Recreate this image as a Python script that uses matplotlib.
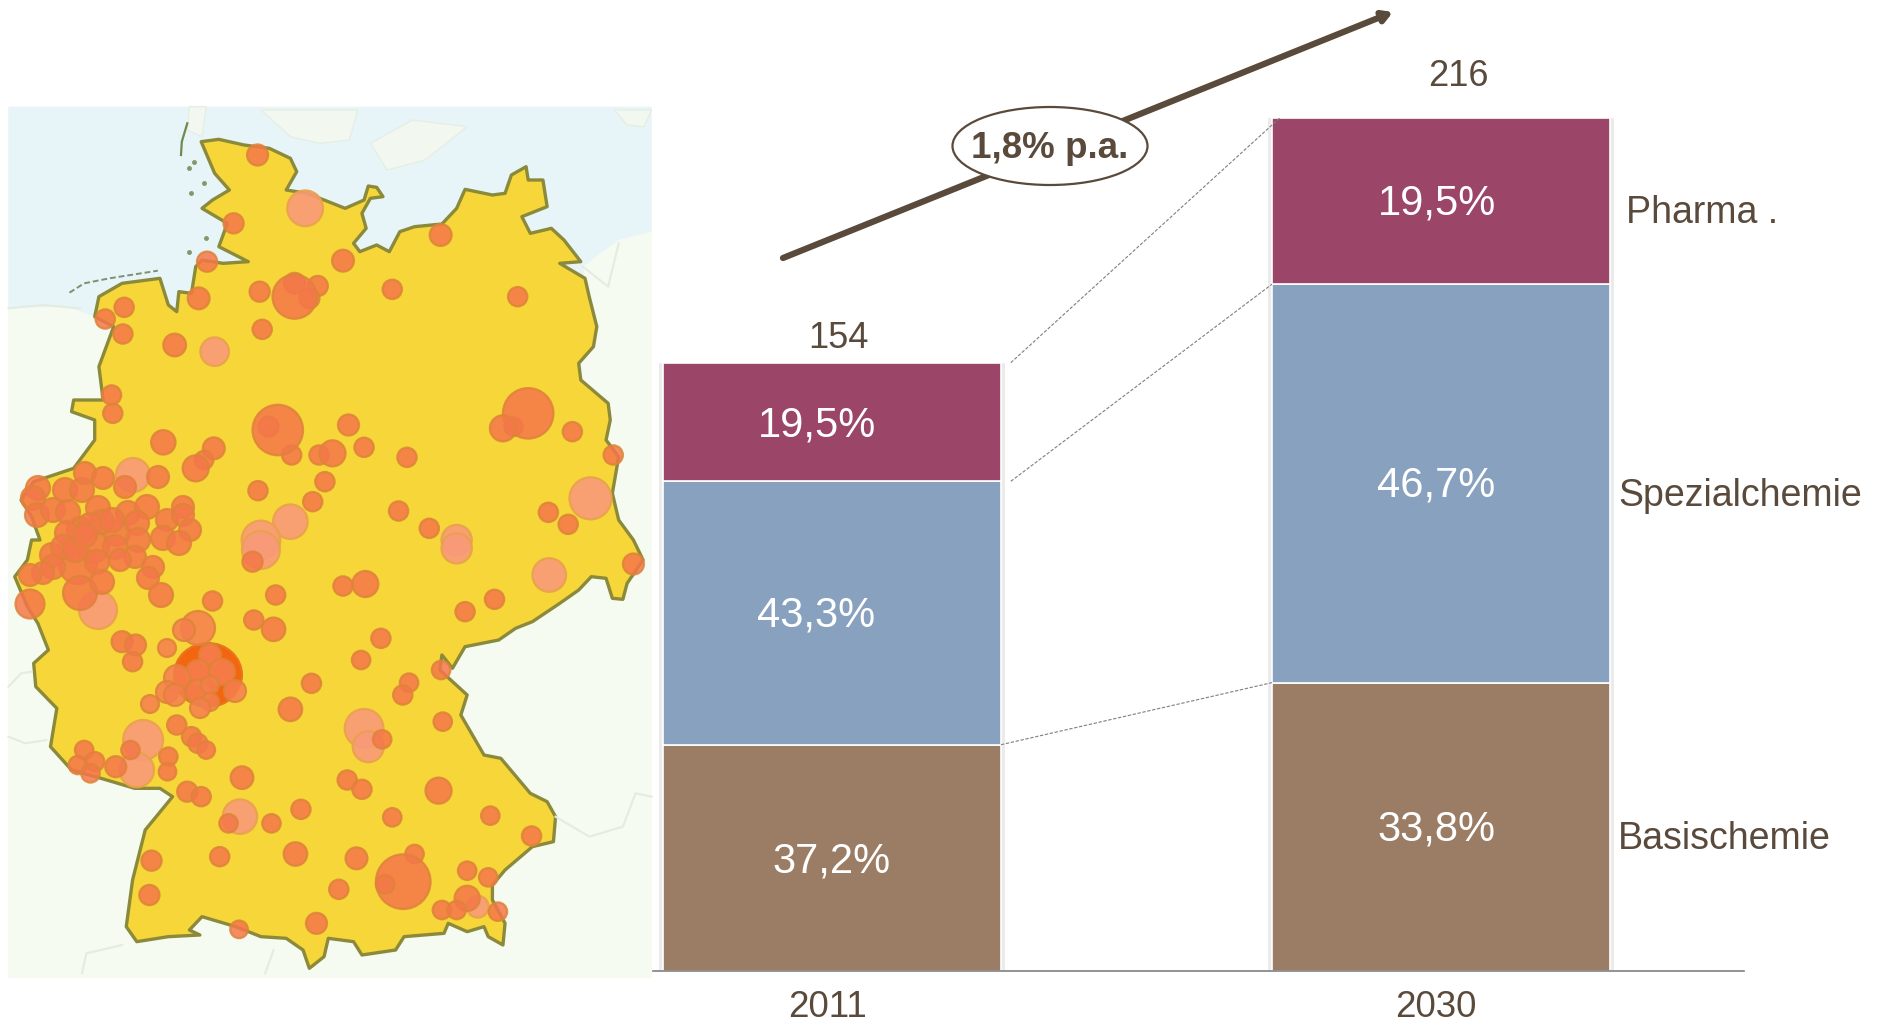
import numpy as np
import matplotlib
matplotlib.use("Agg")
import matplotlib.pyplot as plt
from matplotlib.patches import Circle, Ellipse, Polygon, Rectangle
from matplotlib.transforms import ScaledTranslation

plt.rcParams['font.family'] = ['Liberation Sans', 'DejaVu Sans']

W, H = 1881, 1026
TEXT = "#594a3c"

# ---- bars ----
years = ["2011", "2030"]
totals = [154, 216]
segments = ["Basischemie", "Spezialchemie", "Pharma ."]
shares_2011 = [37.2, 43.3, 19.5]
shares_2030 = [33.8, 46.7, 19.5]
share_labels_2011 = ["37,2%", "43,3%", "19,5%"]
share_labels_2030 = ["33,8%", "46,7%", "19,5%"]
seg_colors = ["#9b7d65", "#87a1bf", "#9b4568"]
growth_label = "1,8% p.a."

# ---- map: x, y in crop units (see north/south helpers) ----
outline_north = [(478,125),(520,118),(580,135),(640,145),(690,175),(705,215),(680,270),(730,280),(770,300),
    (820,325),(865,300),(875,258),(895,262),(910,290),(880,295),(860,340),(870,385),(840,430),(855,455),
    (895,435),(925,455),(950,395),(985,380),(1050,372),(1085,325),(1105,268),(1170,285),(1200,280),(1215,225),
    (1250,200),(1255,240),(1290,240),(1300,320),(1240,350),(1260,400),(1310,385),(1340,420),(1380,485),(1330,490),
    (1390,535),(1400,590),(1418,680),(1410,740),(1375,790),(1380,840),(1445,910),(1450,960),(1440,1020),
    (1470,1070),(1455,1180),(1470,1260),(1505,1320)]
outline_south = [(1528,60),(1490,130),(1480,178),(1455,175),(1440,115),(1405,110),(1375,150),(1330,190),
    (1265,245),(1225,265),(1185,300),(1105,320),(1075,385),(1050,345),(1045,390),(1110,465),(1095,525),
    (1150,645),(1190,655),(1260,760),(1300,785),(1320,830),(1315,905),(1265,920),(1200,990),(1170,1035),
    (1170,1080),(1200,1150),(1195,1215),(1160,1190),(1150,1160),(1110,1175),(1065,1150),(1055,1180),(960,1190),
    (940,1230),(860,1245),(840,1205),(780,1195),(770,1250),(735,1285),(720,1230),(680,1195),(620,1190),
    (560,1160),(480,1130),(450,1170),(475,1185),(400,1190),(325,1205),(300,1160),(315,1020),(345,870),
    (410,770),(380,745),(320,745),(240,715),(170,690),(120,620),(135,505),(85,440),(80,370),(115,330),
    (90,250),(65,200),(35,110),(65,60),(75,0)]
outline_west = [(95,1320),(75,1250),(50,1200),(80,1145),(175,1105),(225,1020),(225,960),(170,935),(175,900),
    (245,900),(235,800),(270,680),(225,650),(235,590),(290,550),(380,535),(400,615),(420,635),(425,575),
    (455,580),(465,500),(480,480),(530,490),(590,485),(520,440),(540,370),(480,325),(505,300),(545,270),(510,220)]
sea = [(20,20),(1548,20),(1548,395),(1470,420),(1385,500),(1390,540),(800,700),(225,650),(160,620),(20,625)]
islands = [[(620,30),(850,30),(830,120),(760,130),(690,110)], [(880,130),(980,60),(1110,80),(1010,180),(920,210)],
    [(450,20),(490,20),(480,110),(445,90)], [(1460,30),(1548,30),(1530,80),(1490,75)]]
sylt = [(445,70),(432,125),(430,165)]
frisian = [(165,578),(200,550),(260,535),(310,525),(375,512)]
halligen = [(460,185),(485,248),(450,205),(455,280),(490,415),(450,455)]
borders_south = [[(20,440),(50,400),(75,395)], [(20,590),(60,610),(110,600)],
    [(1320,830),(1400,890),(1480,860),(1510,760),(1548,770)], [(195,1300),(205,1240),(290,1215)], [(630,1300),(650,1230)]]
borders_north = [[(1385,500),(1445,560),(1470,430)], [(20,625),(100,615),(190,625)]]

# x, y, crop diameter
dots_north = [(612,165,50),(555,370,48),(492,485,48),(472,595,52),(617,575,48),(815,482,52),(700,550,50),(755,558,48),
    (735,595,48),(932,568,46),(1047,405,52),(1230,590,46),(295,622,46),(250,657,46),(292,702,46),(623,688,46),
    (415,735,54),(265,885,46),(268,940,46),(388,1027,58),(508,1045,52),(485,1080,44),(638,980,48),(693,1065,46),
    (758,1065,46),(828,975,50),(865,1042,46),(967,1072,46),(1220,980,44),(1360,995,46),(1457,1065,46),
    (613,1172,46),(772,1145,46),(743,1205,46),(947,1233,46),(1020,1285,46),
    (1303,1237,46),(1350,1273,46),(700,590,105),(660,990,120),(790,1060,62),(1255,940,120),
    (1195,985,62),(465,1105,62)]
dots_south = [(600,65,48),(1505,72,50),(815,138,46),(868,132,62),(655,165,46),(1175,178,46),(1105,215,46),(505,183,46),
    (603,240,46),(650,268,56),(905,295,46),(290,305,50),
    (322,315,50),(315,365,46),(858,360,44),(1048,390,44),(740,430,46),(972,428,44),(957,465,46),
    (690,508,56),(908,598,44),(1052,545,44),(420,555,46),(455,590,46),(470,610,46),(490,630,42),(200,630,44),(185,675,44),
    (225,665,46),(215,700,44),(275,680,50),(310,630,44),(400,650,44),(398,695,42),(575,713,54),(825,720,46),(860,748,46),
    (1042,752,62),(445,755,48),(478,770,46),(715,808,46),(543,850,44),(645,850,44),(932,832,44),(1165,827,44),(1263,888,46),
    (360,962,48),(522,950,46),(702,942,56),(847,955,52),(985,942,44),(958,1025,130),(915,1033,44),(1110,992,44),
    (1160,1012,44),(805,1048,46),(355,1065,48),(1110,1075,60),(1050,1110,44),(1085,1110,44),(1183,1115,44),(752,1150,50),
    (568,1168,42)]
pale_north = [(725,325,85),(510,755,68),(1403,1195,100),(690,1265,82),(1085,1320,72),(620,1320,92)]
pale_south = [(620,30,90),(1085,25,72),(1305,105,80),(865,565,92),(875,620,74),(340,600,95),(325,690,82),
    (570,830,82),(1135,1100,52)]

# dense parts read at higher zoom: x, y, diameter in picture pixels
ruhr_dots = [(78,565,38),(80,593,34),(93,547,32),(117,533,26),(80,530,26),(30,604,29),(38,488,24),(33,498,24),(37,515,24),
    (53,510,24),(65,490,24),(82,490,24),(85,473,22),(103,478,22),(125,487,22),(158,477,22),(68,512,24),(98,508,24),
    (67,533,24),(102,522,24),(128,513,24),(147,507,24),(137,523,24),(167,520,22),(183,507,22),(183,515,22),(190,530,22),
    (163,538,24),(179,543,24),(138,540,24),(115,547,24),(135,557,22),(97,562,24),(52,555,24),(63,547,24),(53,567,24),
    (43,573,22),(30,575,22),(153,567,22),(148,578,22),(161,595,24),(102,582,24),(90,525,24),(112,520,24),(75,550,24),
    (120,560,22),(85,535,24)]
ruhr_pale = [(133,475,34),(98,610,38)]
rhein_main_dots = [(210,655,22),(198,672,24),(222,672,26),(177,678,26),(167,692,22),(175,695,22),(198,692,24),(210,685,18),
    (235,691,22),(210,702,18),(200,708,20),(150,704,18),(167,648,18),(198,628,34),(184,630,22)]


def north(pts):
    return [(x / 2.376, 100 + y / 3) for x, y in pts]


def south(pts):
    return [(x / 2.376, 540 + y / 3) for x, y in pts]


fig = plt.figure(figsize=(W / 100, H / 100), dpi=100, facecolor="white")

# map panel in pixel coordinates
mp = fig.add_axes([0, 0, 1, 1])
mp.set_xlim(0, W)
mp.set_ylim(H, 0)
mp.axis("off")
mp.add_patch(Rectangle((8, 107), 644, 871, fc="#f6fbf2", ec="none"))
mp.add_patch(Polygon(north(sea), fc="#e7f5f8", ec="none"))
for isl in islands:
    mp.add_patch(Polygon(north(isl), fc="#f2f8f0", ec="#e6eee4", lw=1))
for b in borders_south:
    mp.plot(*zip(*south(b)), color="#e4ebe0", lw=1.5)
for b in borders_north:
    mp.plot(*zip(*north(b)), color="#e4ebe0", lw=1.5)
mp.plot(*zip(*north(sylt)), color="#6f8a50", lw=1.6)
mp.plot(*zip(*north(frisian)), color="#7d9070", lw=1.4, ls=(0, (3, 1.5)))
mp.plot(*zip(*north(halligen)), ls="none", marker="o", ms=2.5, color="#7f9a68")

germany = north(outline_north) + south(outline_south) + north(outline_west)
mp.add_patch(Polygon(germany, fc="#f7d63a", ec="#8b8a3a", lw=2.4, joinstyle="round"))


def add_dots(xy, diam, color, edge, alpha):
    for (x, y), d in zip(xy, diam):
        mp.add_patch(Circle((x, y), d / 2, fc=color, ec=edge, lw=1.6, alpha=alpha))


def crop_dots(pts, conv, color, edge, alpha):
    add_dots(conv([p[:2] for p in pts]), [p[2] / 2.376 for p in pts], color, edge, alpha)


def px_dots(pts, color, edge, alpha):
    add_dots([p[:2] for p in pts], [p[2] for p in pts], color, edge, alpha)


SOLID, SOLID_EDGE = "#f4774a", "#dd8438"
PALE, PALE_EDGE = "#f99a78", "#e8a24c"

crop_dots(pale_north, north, PALE, PALE_EDGE, 0.9)
crop_dots(pale_south, south, PALE, PALE_EDGE, 0.9)
px_dots(ruhr_pale, PALE, PALE_EDGE, 0.9)
crop_dots(dots_north, north, SOLID, SOLID_EDGE, 0.85)
crop_dots(dots_south, south, SOLID, SOLID_EDGE, 0.85)
px_dots(ruhr_dots, SOLID, SOLID_EDGE, 0.85)
mp.add_patch(Ellipse((208, 675), 68, 64, fc="#f5640f", ec="#e5781e", lw=1.5))
px_dots(rhein_main_dots, "#f57f4f", SOLID_EDGE, 0.85)

# stacked bars through their own value axis
bar_width = 0.555
ax = fig.add_axes([653 / W, (H - 971) / H, (1744 - 653) / W, 971 / H])
ax.patch.set_alpha(0)
ax.set_xlim(-0.294, 1.4975)
ax.set_ylim(0, 971 / 3.95)
for s in ["top", "left", "right"]:
    ax.spines[s].set_visible(False)
ax.spines["bottom"].set_color("#808080")
ax.spines["bottom"].set_linewidth(1.2)
ax.set_yticks([])
ax.set_xticks([0, 1])
ax.set_xticklabels(years, fontsize=26.5, color=TEXT)
ax.tick_params(axis="x", length=0, pad=14)
shift = ScaledTranslation(-5 / 100, 0, fig.dpi_scale_trans)
for lab in ax.get_xticklabels():
    lab.set_transform(lab.get_transform() + shift)

xs = np.arange(len(years))
ax.bar(xs, totals, bar_width + 0.012, color="#ebebeb", zorder=1)
cum = np.zeros((2, 4))
for i, shares in enumerate([shares_2011, shares_2030]):
    cum[i, 1:] = np.cumsum(np.array(shares) * totals[i] / 100)
for k in range(3):
    ax.bar(xs, cum[:, k + 1] - cum[:, k], bar_width, bottom=cum[:, k], color=seg_colors[k],
           edgecolor="white", linewidth=1.2, zorder=2)

# dashed links between the bars
link_gaps = [0, 0.016, 0.016]
for k, gap in enumerate(link_gaps):
    ax.plot([bar_width / 2 + gap, 1 - bar_width / 2 + (0.013 if k == 2 else 0)], [cum[0, k + 1], cum[1, k + 1]],
            color="#7f7f7f", lw=0.8, ls=(0, (3, 1.5)), zorder=3, clip_on=False)

# text, arrow, bubble on top
ov = fig.add_axes([0, 0, 1, 1])
ov.set_xlim(0, W)
ov.set_ylim(H, 0)
ov.axis("off")
ov.patch.set_alpha(0)

ov.annotate("", xy=(1393, 12), xytext=(783, 258),
            arrowprops=dict(arrowstyle="-|>,head_length=0.55,head_width=0.32", color=TEXT, lw=4.5, shrinkA=0, shrinkB=0))
ov.add_patch(Ellipse((1050, 146), 195, 78, fc="white", ec=TEXT, lw=1.6, zorder=5))
ov.text(1050, 148, growth_label, fontsize=26.5, fontweight="bold", color=TEXT, ha="center", va="center", zorder=6)

ov.text(838, 338.5, str(totals[0]), fontsize=26, color=TEXT, ha="center", va="center")
ov.text(1458, 76.5, str(totals[1]), fontsize=26, color=TEXT, ha="center", va="center")

label_pos_2011 = [(832, 861), (816, 615), (817, 426)]
label_pos_2030 = [(1436, 829), (1436, 486), (1437, 203)]
for lab, (x, y) in zip(share_labels_2011, label_pos_2011):
    ov.text(x, y, lab, fontsize=30, color="white", ha="center", va="center")
for lab, (x, y) in zip(share_labels_2030, label_pos_2030):
    ov.text(x, y, lab, fontsize=30, color="white", ha="center", va="center")

name_pos = [(1618, 839), (1618, 496), (1626, 213)]
for name, (x, y) in zip(segments, name_pos):
    ov.text(x, y, name, fontsize=27, color=TEXT, ha="left", va="center")

fig.savefig("out.png", dpi=100)
